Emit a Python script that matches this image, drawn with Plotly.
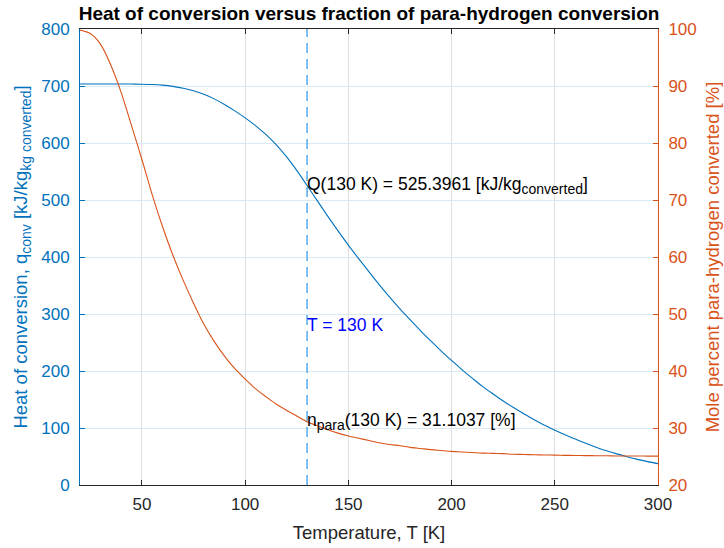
import plotly.graph_objects as go

# Temperature grid [K]
temperature = [20, 25, 30, 35, 40, 45, 50, 55, 60, 65, 70, 75, 80, 85, 90, 95,
               100, 105, 110, 115, 120, 125, 130, 135, 140, 145, 150, 155, 160,
               165, 170, 175, 180, 185, 190, 195, 200, 205, 210, 215, 220, 225,
               230, 235, 240, 245, 250, 255, 260, 265, 270, 275, 280, 285, 290,
               295, 300]

# Heat of conversion q_conv [kJ/kg converted]
heat_conv = [703.5, 703.5, 703.5, 703.5, 703.5, 703.4, 703.2, 702.6, 701.5, 699.4,
             696.2, 691.6, 685.4, 677.4, 667.6, 656.3, 644.0, 630.5, 615.0, 597.0,
             576.0, 552.0, 525.4, 498.4, 471.8, 445.8, 420.8, 397.0, 374.0, 351.0,
             329.5, 309.0, 289.5, 270.5, 252.5, 235.0, 218.5, 202.5, 187.5, 173.0,
             160.0, 147.5, 136.0, 125.0, 114.5, 105.0, 96.0, 88.0, 80.5, 73.2,
             66.4, 60.2, 54.6, 49.6, 45.0, 41.0, 37.4]

# Equilibrium para-hydrogen fraction [mol %]
para_pct = [99.8, 99.2, 97.3, 93.6, 88.8, 83.0, 77.1, 70.9, 65.3, 60.3,
            55.9, 51.9, 48.2, 45.2, 42.6, 40.4, 38.6, 36.9, 35.5, 34.2,
            33.1, 32.1, 31.1, 30.4, 29.7, 29.1, 28.6, 28.2, 27.8, 27.4,
            27.1, 26.9, 26.6, 26.4, 26.2, 26.05, 25.9, 25.8, 25.7, 25.6,
            25.55, 25.5, 25.4, 25.35, 25.3, 25.27, 25.24, 25.2, 25.18, 25.16,
            25.14, 25.12, 25.1, 25.09, 25.08, 25.07, 25.06]

# Marked temperature and the values reported there
T_MARK = 130
Q_MARK = 525.3961
N_MARK = 31.1037
T_LABEL_Y = 280

x_ticks = [50, 100, 150, 200, 250, 300]
y_ticks = [0, 100, 200, 300, 400, 500, 600, 700, 800]
y2_ticks = [20, 30, 40, 50, 60, 70, 80, 90, 100]

BLUE = "#0072BD"
ORANGE = "#D95319"
DARK = "#262626"
FONT = "Liberation Sans, Arial, Helvetica, sans-serif"


def sub(txt, size):
    """Subscript kept close to full size."""
    return f"<sub><span style='font-size:{size}px'>{txt}</span></sub>"


fig = go.Figure()

fig.add_trace(go.Scatter(x=temperature, y=heat_conv, mode="lines",
                         line=dict(color=BLUE, width=1.1, shape="spline", smoothing=1.0),
                         yaxis="y", showlegend=False, hoverinfo="skip"))
fig.add_trace(go.Scatter(x=temperature, y=para_pct, mode="lines",
                         line=dict(color=ORANGE, width=1.1, shape="spline", smoothing=0.8),
                         yaxis="y2", showlegend=False, hoverinfo="skip"))

# Vertical marker at the chosen temperature
fig.add_shape(type="line", xref="x", yref="paper", x0=T_MARK, x1=T_MARK,
              y0=0, y1=1, line=dict(color="#4AA3E6", width=1.4, dash="10px,6px"))

fig.add_annotation(x=T_MARK, y=Q_MARK, xref="x", yref="y",
                   text=f"Q({T_MARK} K) = {Q_MARK:.4f} [kJ/kg{sub('converted', 14)}]",
                   showarrow=False, xanchor="left", yanchor="middle", xshift=-2,
                   font=dict(family=FONT, size=17.5, color="#000000"))
fig.add_annotation(x=T_MARK, y=T_LABEL_Y, xref="x", yref="y",
                   text=f"T = {T_MARK} K", showarrow=False,
                   xanchor="left", yanchor="middle", xshift=-2,
                   font=dict(family=FONT, size=17.5, color="#0000FF"))
fig.add_annotation(x=T_MARK, y=N_MARK, xref="x", yref="y2",
                   text=f"n{sub('para', 14)}({T_MARK} K) = {N_MARK:.4f} [%]",
                   showarrow=False, xanchor="left", yanchor="middle", xshift=-2,
                   font=dict(family=FONT, size=17.5, color="#000000"))

fig.update_layout(
    width=724, height=548,
    margin=dict(l=80, r=66, t=29, b=63, autoexpand=False),
    paper_bgcolor="white", plot_bgcolor="white",
    font=dict(family=FONT, size=17, color=DARK),
    title=dict(text="<b>Heat of conversion versus fraction of para-hydrogen conversion</b>",
               x=0.5, xref="paper", xanchor="center", y=0.975, yanchor="middle",
               font=dict(family=FONT, size=19, color="#000000")),
    xaxis=dict(range=[20, 300], tickvals=x_ticks, ticks="inside", ticklen=5,
               tickcolor=DARK, tickfont=dict(size=17, color=DARK),
               showline=True, linecolor=DARK, linewidth=1, mirror="ticks",
               showgrid=True, gridcolor="#DFDFDF", gridwidth=1, zeroline=False,
               ticklabelstandoff=4, automargin=False,
               title=dict(text="Temperature, T [K]", font=dict(size=18.5, color=DARK),
                          standoff=12)),
    yaxis=dict(range=[0, 800], tickvals=y_ticks, ticks="inside", ticklen=5,
               tickcolor=BLUE, tickfont=dict(size=17, color=BLUE),
               showline=True, linecolor=BLUE, linewidth=1,
               showgrid=True, gridcolor="#DAEAF5", gridwidth=1, zeroline=False,
               ticklabelstandoff=6, automargin=False,
               title=dict(text=f"Heat of conversion, q{sub('conv', 14)} "
                               f"[kJ/kg{sub('kg converted', 14)}]",
                          font=dict(size=18.5, color=BLUE), standoff=8)),
    yaxis2=dict(range=[20, 100], tickvals=y2_ticks, ticks="inside", ticklen=5,
                tickcolor=ORANGE, tickfont=dict(size=17, color=ORANGE),
                showline=True, linecolor=ORANGE, linewidth=1,
                overlaying="y", side="right", showgrid=False, zeroline=False,
                ticklabelstandoff=6, automargin=False,
                title=dict(text="Mole percent para-hydrogen converted [%]",
                           font=dict(size=18.5, color=ORANGE), standoff=10)),
)

fig.write_html("out.html")
